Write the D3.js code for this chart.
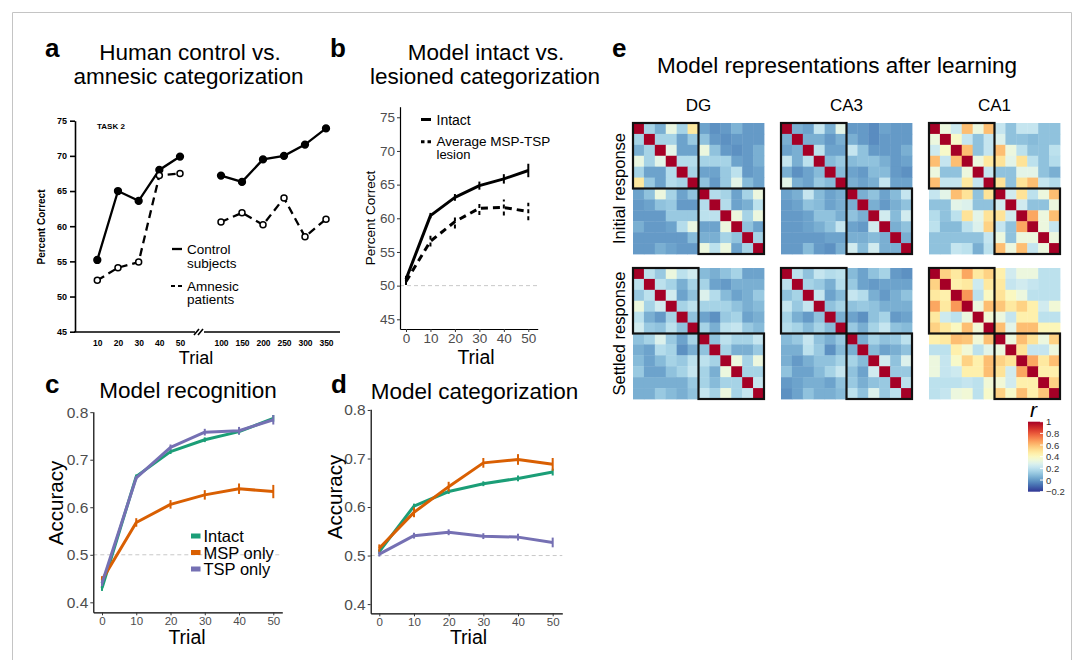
<!DOCTYPE html>
<html><head><meta charset="utf-8">
<script src="https://cdn.jsdelivr.net/npm/d3@7"></script>
<style>body{margin:0;background:#fff} svg{display:block;font-family:"Liberation Sans",Arial,Helvetica,sans-serif}</style>
</head><body><svg id="fig" width="1083" height="660"></svg>
<script>
// ---------- Panel a data ----------
const aTrialsEarly = [10, 20, 30, 40, 50];
const aTrialsLate = [100, 150, 200, 250, 300, 350];
const aControlEarly = [55.2, 65.0, 63.6, 68.0, 69.9];
const aControlLate = [67.2, 66.3, 69.5, 70.0, 71.6, 73.9];
const aAmnesicEarly = [52.3, 54.1, 54.9, 67.2, 67.5];
const aAmnesicLate = [60.6, 61.9, 60.2, 64.0, 58.5, 61.0];
const aYTicks = [45, 50, 55, 60, 65, 70, 75];

// ---------- Panel b data ----------
const modelTrials = [0, 10, 20, 30, 40, 50];
const bIntact = [50.95, 60.4, 63.1, 64.85, 65.85, 67.1];
const bIntactErr = [0.5, 0.4, 0.5, 0.6, 0.7, 1.0];
const bLesion = [50.6, 56.6, 59.5, 61.5, 61.6, 61.0];
const bLesionErr = [0.5, 0.8, 1.0, 1.0, 1.2, 1.3];
const bYTicks = [45, 50, 55, 60, 65, 70, 75];

// ---------- Panel c data ----------
const cIntact = [0.43, 0.665, 0.717, 0.742, 0.759, 0.787];
const cIntactErr = [0.006, 0.004, 0.005, 0.005, 0.006, 0.007];
const cMSP = [0.447, 0.568, 0.606, 0.626, 0.639, 0.633];
const cMSPErr = [0.008, 0.009, 0.009, 0.01, 0.011, 0.014];
const cTSP = [0.44, 0.662, 0.726, 0.758, 0.761, 0.784];
const cTSPErr = [0.006, 0.004, 0.006, 0.007, 0.008, 0.01];

// ---------- Panel d data ----------
const dIntact = [0.508, 0.602, 0.632, 0.648, 0.659, 0.672];
const dIntactErr = [0.005, 0.005, 0.005, 0.005, 0.006, 0.007];
const dMSP = [0.515, 0.589, 0.642, 0.691, 0.698, 0.688];
const dMSPErr = [0.008, 0.01, 0.01, 0.01, 0.011, 0.013];
const dTSP = [0.503, 0.541, 0.548, 0.540, 0.538, 0.527];
const dTSPErr = [0.005, 0.006, 0.006, 0.006, 0.007, 0.01];
const accTicks = [0.4, 0.5, 0.6, 0.7, 0.8];
const seriesNames = ["Intact", "MSP only", "TSP only"];
const seriesColors = ["#1b9e77", "#d95f02", "#7570b3"];

// ---------- Panel e data (correlation matrices) ----------
const dgInitial = [
 [1,0.15,0.05,0.32,0.15,0.48, 0.02,-0.02,0.0,0.06,0.0,0.0],
 [0.15,1,0.15,0.15,0.02,0.12, 0.1,0.0,-0.02,0.0,0.0,0.0],
 [0.05,0.15,1,0.3,0.02,0.02, 0.33,0.1,0.0,-0.02,0.0,0.05],
 [0.32,0.15,0.3,1,0.18,0.18, 0.15,0.15,0.15,0.02,0.0,0.05],
 [0.15,0.02,0.02,0.18,1,0.15, 0.02,0.02,0.12,0.2,0.0,0.02],
 [0.48,0.12,0.02,0.18,0.15,1, 0.1,0.0,0.12,0.3,0.08,0.02],
 [0.02,0.1,0.33,0.15,0.02,0.1, 1,0.18,0.15,0.02,0.15,0.33],
 [0.0,0.02,0.1,0.12,0.0,0.0, 0.18,1,0.18,0.02,0.05,0.2],
 [0.0,0.0,0.0,0.12,0.12,0.12, 0.2,0.2,1,0.33,0.15,0.33],
 [0.05,0.0,0.0,0.02,0.18,0.32, 0.02,0.02,0.33,1,0.1,0.02],
 [0.0,0.0,0.0,0.0,0.0,0.08, 0.05,0.05,0.15,0.1,1,0.15],
 [0.0,0.0,0.05,0.02,0.0,0.0, 0.33,0.2,0.33,0.02,0.15,1]
];
const ca3Initial = [
 [1,0.05,0.02,0.22,0.05,0.3, 0.0,0.0,-0.03,0.02,0.0,0.0],
 [0.05,1,0.05,0.05,0.0,0.05, 0.05,0.0,-0.03,0.0,0.0,0.0],
 [0.02,0.05,1,0.2,0.02,0.02, 0.22,0.1,0.0,0.0,0.0,0.05],
 [0.22,0.05,0.2,1,0.08,0.12, 0.08,0.1,0.1,0.05,0.0,0.02],
 [0.05,-0.02,0.02,0.08,1,0.08, 0.02,0.0,0.08,0.08,0.0,-0.02],
 [0.3,0.05,0.02,0.12,0.08,1, 0.05,0.02,0.05,0.22,0.02,0.02],
 [0.02,0.05,0.22,0.08,0.02,0.05, 1,0.05,0.1,0.02,0.08,0.22],
 [0.0,0.02,0.1,0.08,0.02,0.05, 0.05,1,0.05,0.0,0.05,0.1],
 [0.0,0.0,0.02,0.1,0.1,0.05, 0.1,0.05,1,0.25,0.08,0.25],
 [0.0,0.0,0.02,0.05,0.1,0.22, 0.02,0.0,0.25,1,0.05,0.1],
 [0.0,0.0,0.0,0.0,0.02,0.02, 0.05,0.05,0.08,0.05,1,0.05],
 [0.0,0.0,0.08,0.0,-0.02,0.05, 0.25,0.08,0.25,0.05,0.05,1]
];
const ca1Initial = [
 [1,0.33,0.24,0.6,0.33,0.6, 0.22,0.1,0.22,0.22,0.1,0.1],
 [0.33,1,0.38,0.22,0.1,0.22, 0.28,0.1,0.1,0.08,0.1,0.1],
 [0.24,0.38,1,0.6,0.1,0.22, 0.6,0.33,0.2,0.1,0.1,0.2],
 [0.6,0.22,0.6,1,0.33,0.48, 0.5,0.3,0.5,0.2,0.1,0.18],
 [0.33,0.1,0.1,0.33,1,0.22, 0.1,0.1,0.3,0.3,0.1,0.05],
 [0.6,0.22,0.22,0.48,0.22,1, 0.5,0.1,0.5,0.6,0.22,0.18],
 [0.22,0.3,0.6,0.5,0.1,0.5, 1,0.25,0.5,0.2,0.33,0.6],
 [0.1,0.1,0.3,0.28,0.1,0.1, 0.25,1,0.25,0.1,0.1,0.33],
 [0.18,0.1,0.2,0.5,0.3,0.5, 0.5,0.25,1,0.65,0.33,0.6],
 [0.2,0.08,0.08,0.2,0.28,0.55, 0.22,0.1,0.65,1,0.33,0.22],
 [0.1,0.1,0.1,0.1,0.1,0.22, 0.33,0.1,0.33,0.33,1,0.33],
 [0.1,0.1,0.22,0.2,0.05,0.2, 0.6,0.33,0.6,0.22,0.33,1]
];
const dgSettled = [
 [1,0.2,0.12,0.33,0.2,0.25, 0.08,0.05,0.1,0.15,0.02,0.02],
 [0.2,1,0.2,0.15,0.05,0.15, 0.15,0.02,0.0,0.05,0.05,0.05],
 [0.12,0.2,1,0.25,0.02,0.1, 0.28,0.18,0.08,0.02,0.05,0.12],
 [0.33,0.15,0.25,1,0.15,0.2, 0.15,0.15,0.15,0.1,0.05,0.08],
 [0.2,0.05,0.0,0.15,1,0.1, 0.02,-0.02,0.12,0.15,0.02,0.05],
 [0.25,0.12,0.1,0.2,0.1,1, 0.15,0.05,0.2,0.22,0.12,0.08],
 [0.1,0.15,0.28,0.12,0.02,0.15, 1,0.1,0.2,0.15,0.15,0.22],
 [0.05,0.02,0.18,0.15,-0.02,0.05, 0.1,1,0.15,0.05,0.05,0.12],
 [0.08,0.02,0.08,0.15,0.12,0.2, 0.2,0.15,1,0.33,0.15,0.33],
 [0.12,0.02,0.02,0.1,0.15,0.22, 0.15,0.05,0.33,1,0.15,0.15],
 [0.05,0.05,0.05,0.05,0.05,0.12, 0.15,0.08,0.15,0.15,1,0.22],
 [0.05,0.05,0.12,0.08,0.05,0.1, 0.22,0.15,0.33,0.15,0.22,1]
];
const ca3Settled = [
 [1,0.2,0.1,0.22,0.18,0.2, 0.08,0.02,0.1,0.15,0.0,-0.02],
 [0.2,1,0.15,0.12,0.05,0.18, 0.12,0.02,0.0,0.02,0.02,0.02],
 [0.1,0.15,1,0.22,0.02,0.08, 0.22,0.18,0.05,0.0,0.05,0.1],
 [0.22,0.12,0.22,1,0.1,0.15, 0.1,0.12,0.1,0.05,0.05,0.05],
 [0.15,0.05,0.0,0.1,1,0.05, 0.02,-0.02,0.1,0.15,0.0,0.02],
 [0.18,0.15,0.08,0.15,0.08,1, 0.12,0.05,0.15,0.22,0.1,0.08],
 [0.08,0.12,0.22,0.1,0.05,0.12, 1,0.05,0.15,0.1,0.12,0.2],
 [0.05,0.05,0.2,0.12,-0.02,0.08, 0.05,1,0.08,0.02,0.05,0.1],
 [0.05,0.0,0.05,0.1,0.1,0.15, 0.15,0.08,1,0.25,0.1,0.28],
 [0.1,0.02,0.02,0.08,0.15,0.22, 0.1,0.02,0.25,1,0.12,0.12],
 [0.0,0.02,0.05,0.05,0.02,0.1, 0.12,0.05,0.1,0.12,1,0.2],
 [-0.02,0.02,0.1,0.05,0.05,0.08, 0.2,0.1,0.28,0.12,0.2,1]
];
const ca1Settled = [
 [1,0.55,0.48,0.65,0.48,0.55, 0.45,0.25,0.33,0.33,0.2,0.2],
 [0.55,1,0.45,0.48,0.24,0.48, 0.48,0.22,0.25,0.22,0.2,0.2],
 [0.48,0.45,1,0.68,0.2,0.4, 0.5,0.4,0.33,0.2,0.2,0.2],
 [0.65,0.48,0.68,1,0.33,0.6, 0.58,0.48,0.55,0.45,0.25,0.35],
 [0.48,0.24,0.2,0.33,1,0.35, 0.33,0.22,0.45,0.45,0.2,0.2],
 [0.55,0.48,0.4,0.6,0.35,1, 0.6,0.3,0.6,0.6,0.42,0.42],
 [0.45,0.48,0.6,0.58,0.35,0.6, 1,0.33,0.6,0.5,0.33,0.55],
 [0.2,0.2,0.45,0.35,0.2,0.3, 0.33,1,0.5,0.22,0.22,0.33],
 [0.33,0.22,0.38,0.55,0.45,0.6, 0.55,0.5,1,0.65,0.48,0.6],
 [0.33,0.22,0.24,0.45,0.45,0.6, 0.5,0.25,0.65,1,0.45,0.45],
 [0.2,0.2,0.2,0.22,0.2,0.35, 0.35,0.25,0.45,0.45,1,0.55],
 [0.2,0.22,0.33,0.35,0.2,0.38, 0.55,0.38,0.6,0.45,0.58,1]
];
const regionNames = ["DG", "CA3", "CA1"];
const responseNames = ["Initial response", "Settled response"];
const colorbarTicks = [1, 0.8, 0.6, 0.4, 0.2, 0, -0.2];

// ====================================================
const svg = d3.select("#fig");
const FONT = '"Liberation Sans",Arial,Helvetica,sans-serif';

// outer frame
svg.append("path").attr("d", "M12.5,665V12.5H1071.5V665")
  .attr("fill", "none").attr("stroke", "#c4c4c4").attr("stroke-width", 1);

function text(x, y, s, o = {}) {
  const t = svg.append("text").attr("x", x).attr("y", y).text(s)
    .attr("font-size", o.size || 14)
    .attr("text-anchor", o.anchor || "start")
    .attr("fill", o.fill || "#000");
  if (o.weight) t.attr("font-weight", o.weight);
  if (o.style) t.attr("font-style", o.style);
  if (o.rotate) t.attr("transform", `rotate(-90,${x},${y})`);
  return t;
}

// panel letters
[["a", 45, 57], ["b", 330, 57], ["c", 45, 393], ["d", 331, 393], ["e", 612, 57]]
  .forEach(([l, x, y]) => text(x, y, l, { size: 26, weight: "bold" }));

// titles
text(190, 60, "Human control vs.", { size: 22.5, anchor: "middle" });
text(188.5, 84, "amnesic categorization", { size: 22.5, anchor: "middle" });
text(486, 60, "Model intact vs.", { size: 22.5, anchor: "middle" });
text(485, 84, "lesioned categorization", { size: 22.5, anchor: "middle" });
text(188, 398, "Model recognition", { size: 22.5, anchor: "middle" });
text(474.5, 399, "Model categorization", { size: 22.5, anchor: "middle" });
text(837, 73, "Model representations after learning", { size: 22.5, anchor: "middle" });

// ================= Panel a =================
{
  const y = d3.scaleLinear().domain([45, 75]).range([331.7, 120.7]);
  const xE = d3.scaleLinear().domain([10, 50]).range([97.3, 180]);
  const xL = d3.scaleLinear().domain([100, 350]).range([221, 326]);
  const g = svg.append("g");
  const ax = g.append("g").attr("transform", "translate(75,0)")
    .call(d3.axisLeft(y).tickValues(aYTicks).tickSize(5).tickPadding(3).tickSizeOuter(0));
  ax.select(".domain").attr("stroke", "#000").attr("stroke-width", 1.6);
  ax.selectAll(".tick line").attr("stroke", "#000").attr("stroke-width", 1.6);
  ax.selectAll("text").attr("font-size", 9).attr("font-weight", "bold").attr("font-family", FONT).attr("fill", "#000");
  // x axis with break
  g.append("line").attr("x1", 74).attr("x2", 195).attr("y1", 332).attr("y2", 332).attr("stroke", "#000").attr("stroke-width", 1.6);
  g.append("line").attr("x1", 204).attr("x2", 340).attr("y1", 332).attr("y2", 332).attr("stroke", "#000").attr("stroke-width", 1.6);
  g.append("path").attr("d", "M194,335L199,329M198,335L203,329").attr("stroke", "#000").attr("stroke-width", 1.6);
  const xa1 = g.append("g").attr("transform", "translate(0,332)").call(d3.axisBottom(xE).tickValues(aTrialsEarly).tickSize(0).tickPadding(8));
  const xa2 = g.append("g").attr("transform", "translate(0,332)").call(d3.axisBottom(xL).tickValues(aTrialsLate).tickSize(0).tickPadding(8));
  [xa1, xa2].forEach(a => {
    a.select(".domain").remove();
    a.selectAll("text").attr("font-size", 8.5).attr("font-weight", "bold").attr("font-family", FONT).attr("fill", "#000");
  });
  const line = d3.line().x(d => d[0]).y(d => y(d[1]));
  const segs = [
    [aTrialsEarly.map((t, i) => [xE(t), aControlEarly[i]]), false],
    [aTrialsLate.map((t, i) => [xL(t), aControlLate[i]]), false],
    [aTrialsEarly.map((t, i) => [xE(t), aAmnesicEarly[i]]), true],
    [aTrialsLate.map((t, i) => [xL(t), aAmnesicLate[i]]), true]
  ];
  segs.forEach(([pts, dashed]) => {
    g.append("path").attr("d", line(pts)).attr("fill", "none").attr("stroke", "#000")
      .attr("stroke-width", 2.3).attr("stroke-dasharray", dashed ? "8,5" : null);
    g.selectAll(null).data(pts).enter().append("circle")
      .attr("cx", d => d[0]).attr("cy", d => y(d[1])).attr("r", dashed ? 3 : 3.4)
      .attr("fill", dashed ? "#fff" : "#000").attr("stroke", "#000").attr("stroke-width", 1.5);
  });
  text(97, 129, "TASK 2", { size: 8, weight: "bold" });
  text(45, 227, "Percent Correct", { size: 10, weight: "bold", anchor: "middle", rotate: true });
  text(196, 364, "Trial", { size: 18, anchor: "middle" });
  // legend
  g.append("line").attr("x1", 172).attr("x2", 182).attr("y1", 249).attr("y2", 249).attr("stroke", "#000").attr("stroke-width", 2.3);
  g.append("path").attr("d", "M171,286H175M178,286H182").attr("stroke", "#000").attr("stroke-width", 2);
  text(187, 254, "Control", { size: 13.5 });
  text(187, 268, "subjects", { size: 13.5 });
  text(187, 290.5, "Amnesic", { size: 13.5 });
  text(187, 304, "patients", { size: 13.5 });
}

// ================= helper for model panels =================
function modelAxes(x, y, xTicks, yTicks, yFmt, yx, xy, ySize, xSize) {
  const gy = svg.append("g").attr("transform", `translate(${yx},0)`)
    .call(d3.axisLeft(y).tickValues(yTicks).tickFormat(yFmt).tickSize(3).tickPadding(2).tickSizeOuter(0));
  const gx = svg.append("g").attr("transform", `translate(0,${xy})`)
    .call(d3.axisBottom(x).tickValues(xTicks).tickSize(3).tickPadding(1.5).tickSizeOuter(0));
  [gy, gx].forEach(a => {
    a.select(".domain").attr("stroke", "#000").attr("stroke-width", 1.2);
    a.selectAll(".tick line").attr("stroke", "#333").attr("stroke-width", 1);
    a.selectAll("text").attr("font-family", FONT).attr("fill", "#4d4d4d");
  });
  gy.selectAll("text").attr("font-size", ySize);
  gx.selectAll("text").attr("font-size", xSize);
}

function refLine(x, y, v) {
  svg.append("line").attr("x1", x.range()[0]).attr("x2", x.range()[1])
    .attr("y1", y(v)).attr("y2", y(v)).attr("stroke", "#c8c8c8").attr("stroke-width", 1).attr("stroke-dasharray", "4,3");
}

function drawSeries(x, y, vals, errs, color, width, dash) {
  const pts = modelTrials.map((t, i) => [t, vals[i], errs[i]]);
  svg.append("path").attr("d", d3.line().x(d => x(d[0])).y(d => y(d[1]))(pts))
    .attr("fill", "none").attr("stroke", color).attr("stroke-width", width)
    .attr("stroke-dasharray", dash || null).attr("stroke-linejoin", "round");
  svg.selectAll(null).data(pts).enter().append("line")
    .attr("x1", d => x(d[0])).attr("x2", d => x(d[0]))
    .attr("y1", d => y(d[1] - d[2])).attr("y2", d => y(d[1] + d[2]))
    .attr("stroke", color).attr("stroke-width", 2).attr("stroke-dasharray", dash ? "4,3" : null);
}

// ================= Panel b =================
{
  const x = d3.scaleLinear().domain([-2.45, 53.84]).range([400, 537.7]);
  const y = d3.scaleLinear().domain([43.56, 76.57]).range([329, 106.7]);
  refLine(x, y, 50);
  modelAxes(x, y, modelTrials, bYTicks, d3.format("d"), 400, 329, 13.5, 13.5);
  drawSeries(x, y, bLesion, bLesionErr, "#000", 3, "7,5");
  drawSeries(x, y, bIntact, bIntactErr, "#000", 3, null);
  text(375, 218, "Percent Correct", { size: 13.5, anchor: "middle", rotate: true });
  text(476, 364, "Trial", { size: 19.5, anchor: "middle" });
  svg.append("line").attr("x1", 421).attr("x2", 431).attr("y1", 119.5).attr("y2", 119.5).attr("stroke", "#000").attr("stroke-width", 3);
  svg.append("path").attr("d", "M421,141.7H424.5M427.5,141.7H431").attr("stroke", "#000").attr("stroke-width", 3);
  text(436.5, 124.5, "Intact", { size: 14 });
  text(436.5, 146, "Average MSP-TSP", { size: 13.5 });
  text(436.5, 159, "lesion", { size: 13 });
}

// ================= Panel c =================
{
  const x = d3.scaleLinear().domain([-2.54, 52.63]).range([93.3, 282.3]);
  const y = d3.scaleLinear().domain([0.379, 0.801]).range([612.3, 411.7]);
  refLine(x, y, 0.5);
  modelAxes(x, y, modelTrials, accTicks, d3.format(".1f"), 93.3, 612.3, 15.5, 11.5);
  [[cIntact, cIntactErr], [cMSP, cMSPErr], [cTSP, cTSPErr]].forEach(([v, e], i) =>
    drawSeries(x, y, v, e, seriesColors[i], 3));
  text(63, 503, "Accuracy", { size: 20.5, anchor: "middle", rotate: true });
  text(187, 644, "Trial", { size: 19.5, anchor: "middle" });
  seriesNames.forEach((n, i) => {
    const yy = 536 + i * 16.5;
    svg.append("rect").attr("x", 191).attr("y", yy - 2.5).attr("width", 9.5).attr("height", 5).attr("fill", seriesColors[i]);
    text(203.5, yy + 6, n, { size: 16.5 });
  });
}

// ================= Panel d =================
{
  const x = d3.scaleLinear().domain([-2.48, 52.77]).range([370.7, 562.3]);
  const y = d3.scaleLinear().domain([0.381, 0.8014]).range([613.3, 409.3]);
  refLine(x, y, 0.5);
  modelAxes(x, y, modelTrials, accTicks, d3.format(".1f"), 370.7, 613.3, 15.5, 11.5);
  [[dIntact, dIntactErr], [dMSP, dMSPErr], [dTSP, dTSPErr]].forEach(([v, e], i) =>
    drawSeries(x, y, v, e, seriesColors[i], 3));
  text(342, 497, "Accuracy", { size: 20.5, anchor: "middle", rotate: true });
  text(468.5, 644, "Trial", { size: 19.5, anchor: "middle" });
}

// ================= Panel e =================
{
  const heat = d3.scaleSequential(d3.interpolateRdYlBu).domain([1, -0.2]);
  const colX = d3.scalePoint().domain(regionNames).range([633, 929]);
  const rowY = d3.scalePoint().domain(responseNames).range([123, 268]);
  const size = 131;
  const cell = d3.scaleBand().domain(d3.range(12)).range([0, size]);
  const mats = [
    [dgInitial, "DG", "Initial response"], [ca3Initial, "CA3", "Initial response"], [ca1Initial, "CA1", "Initial response"],
    [dgSettled, "DG", "Settled response"], [ca3Settled, "CA3", "Settled response"], [ca1Settled, "CA1", "Settled response"]
  ];
  mats.forEach(([m, c, r]) => {
    const g = svg.append("g").attr("transform", `translate(${colX(c)},${rowY(r)})`);
    m.forEach((row, i) => row.forEach((v, j) => {
      g.append("rect").attr("x", cell(j)).attr("y", cell(i))
        .attr("width", cell.bandwidth() + 0.4).attr("height", cell.bandwidth() + 0.4).attr("fill", heat(v));
    }));
    [0, 6].forEach(k => g.append("rect").attr("x", cell(k)).attr("y", cell(k))
      .attr("width", cell.bandwidth() * 6).attr("height", cell.bandwidth() * 6)
      .attr("fill", "none").attr("stroke", "#111").attr("stroke-width", 2.2));
  });
  regionNames.forEach(c => text(colX(c) + size / 2, 110.7, c, { size: 17, anchor: "middle" }));
  responseNames.forEach(r => text(625, rowY(r) + size / 2, r, { size: 16.5, anchor: "middle", rotate: true }));

  // colorbar
  const cb = d3.scaleLinear().domain([-0.2, 1]).range([491.7, 421.7]);
  const grad = svg.append("defs").append("linearGradient").attr("id", "cbg")
    .attr("x1", 0).attr("x2", 0).attr("y1", 1).attr("y2", 0);
  d3.range(0, 1.0001, 0.05).forEach(t => {
    const v = -0.2 + t * 1.2;
    grad.append("stop").attr("offset", t).attr("stop-color", heat(v));
  });
  svg.append("rect").attr("x", 1028).attr("y", cb(1)).attr("width", 15).attr("height", cb(-0.2) - cb(1)).attr("fill", "url(#cbg)");
  colorbarTicks.forEach(v => {
    svg.append("line").attr("x1", 1040).attr("x2", 1043).attr("y1", cb(v)).attr("y2", cb(v)).attr("stroke", "#fff").attr("stroke-width", 1);
    text(1046, cb(v) + 3.5, v < 0 ? "\u2212" + Math.abs(v) : String(v), { size: 9.5, fill: "#333" });
  });
  text(1030, 417, "r", { size: 21, style: "italic" });
}
</script></body></html>
